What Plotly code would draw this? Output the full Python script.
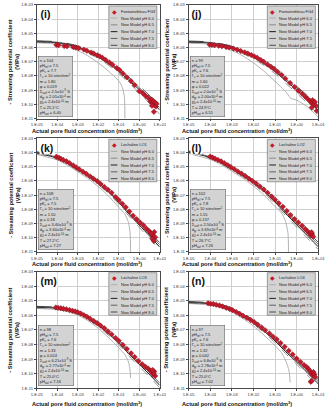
import plotly.graph_objects as go

# ---------------- data ----------------
PANEL_TAGS = ["(i)", "(j)", "(k)", "(l)", "(m)", "(n)"]
SAMPLES = ["Fontainebleau FG3", "Fontainebleau FG4", "Lochaline LO1",
           "Lochaline LO2", "Lochaline LO3", "Lochaline LO4"]
PH_LABELS = ["6.0", "6.5", "7.0", "7.5", "8.0"]

X_TICKS = [1e-5, 1e-4, 1e-3, 1e-2, 1e-1, 1e0, 1e1]
X_TICK_LABELS = ["1.E-05", "1.E-04", "1.E-03", "1.E-02", "1.E-01", "1.E+00", "1.E+01"]
Y_TICKS = [1e-11, 1e-10, 1e-9, 1e-8, 1e-7, 1e-6, 1e-5, 1e-4, 1e-3]
Y_TICK_LABELS = ["1.E-11", "1.E-10", "1.E-09", "1.E-08", "1.E-07", "1.E-06", "1.E-05", "1.E-04", "1.E-03"]

# shared concentration grid of the model curves pH 6.5 - 8.0 (mol/dm3)
C_MODEL = [1e-5, 1e-4, 3e-4, 1e-3, 3e-3, 1e-2, 3e-2, 1e-1, 3e-1, 1, 3, 10]

# ---- panel (i) Fontainebleau FG3
I_PH80 = [3.0e-6, 2.6e-6, 2.0e-6, 1.3e-6, 7.0e-7, 3.1e-7, 1.15e-7, 3.4e-8, 8.5e-9, 2.0e-9, 4.6e-10, 8.0e-11]
I_PH75 = [2.8e-6, 2.4e-6, 1.85e-6, 1.15e-6, 6.2e-7, 2.7e-7, 9.8e-8, 2.8e-8, 6.8e-9, 1.5e-9, 3.4e-10, 5.8e-11]
I_PH70 = [2.6e-6, 2.2e-6, 1.65e-6, 1.0e-6, 5.3e-7, 2.25e-7, 8.0e-8, 2.2e-8, 5.2e-9, 1.1e-9, 2.4e-10, 4.0e-11]
I_PH65 = [2.4e-6, 2.0e-6, 1.45e-6, 8.5e-7, 4.3e-7, 1.75e-7, 6.0e-8, 1.55e-8, 3.4e-9, 6.5e-10, 1.3e-10, 2.0e-11]
I_PH60_X = [1e-5, 1e-4, 3e-4, 1e-3, 3e-3, 1e-2, 3e-2, 1e-1, 0.15, 0.19, 0.2]
I_PH60_Y = [2.2e-6, 1.75e-6, 1.2e-6, 6.2e-7, 2.7e-7, 8.5e-8, 2.4e-8, 4.5e-9, 1.6e-9, 3e-10, 1e-11]
I_MEAS_X = [9e-5, 1.15e-4, 2.2e-4, 3.0e-4, 6.0e-4, 8.0e-4, 1.1e-3, 2.0e-3, 2.8e-3, 4.5e-3, 6.0e-3, 9.0e-3,
            1.2e-2, 1.6e-2, 2.3e-2, 3.5e-2, 5.0e-2, 8.0e-2, 1.1e-1, 1.6e-1, 2.5e-1, 4.0e-1, 6.0e-1, 1.0,
            1.5, 2.0, 2.8, 3.5, 4.0, 4.5, 5.0, 5.5, 6.0, 6.5, 7.0, 4.2, 5.2]
I_MEAS_Y = [1.55e-6, 1.45e-6, 1.3e-6, 1.25e-6, 1.1e-6, 1.0e-6, 9.0e-7, 7.2e-7, 6.0e-7, 4.5e-7, 3.8e-7, 2.9e-7,
            2.4e-7, 1.9e-7, 1.35e-7, 9.0e-8, 6.2e-8, 3.6e-8, 2.6e-8, 1.5e-8, 8.0e-9, 4.2e-9, 2.3e-9, 8.5e-10,
            6.0e-10, 4.0e-10, 2.8e-10, 1.6e-10, 2.2e-10, 1.2e-10, 1.7e-10, 9.0e-11, 1.3e-10, 7.0e-11, 1.1e-10, 8.0e-11, 3.0e-11]

# ---- panel (j) Fontainebleau FG4
J_PH80 = [2.9e-6, 2.5e-6, 1.9e-6, 1.25e-6, 6.8e-7, 3.0e-7, 1.1e-7, 3.3e-8, 8.2e-9, 1.9e-9, 4.4e-10, 7.5e-11]
J_PH75 = [2.7e-6, 2.3e-6, 1.75e-6, 1.1e-6, 6.0e-7, 2.6e-7, 9.4e-8, 2.7e-8, 6.5e-9, 1.45e-9, 3.2e-10, 5.5e-11]
J_PH70 = [2.5e-6, 2.1e-6, 1.6e-6, 9.8e-7, 5.1e-7, 2.15e-7, 7.6e-8, 2.1e-8, 5.0e-9, 1.05e-9, 2.3e-10, 3.8e-11]
J_PH65 = [2.3e-6, 1.9e-6, 1.4e-6, 8.2e-7, 4.1e-7, 1.65e-7, 5.6e-8, 1.45e-8, 3.2e-9, 6.2e-10, 1.25e-10, 1.9e-11]
J_PH60_X = [1e-5, 1e-4, 3e-4, 1e-3, 3e-3, 1e-2, 3e-2, 1e-1, 3e-1, 0.5, 0.55, 1, 3, 10]
J_PH60_Y = [2.1e-6, 1.7e-6, 1.2e-6, 6.3e-7, 2.8e-7, 8.5e-8, 2.3e-8, 4.2e-9, 8.5e-10, 3.0e-10, 2.6e-10, 2.0e-10, 7.0e-11, 1.3e-11]
J_MEAS_X = [9.5e-5, 1.2e-4, 1.6e-4, 2.5e-4, 3.5e-4, 5.5e-4, 7.5e-4, 1.2e-3, 1.8e-3, 2.6e-3, 4.0e-3, 5.5e-3,
            8.0e-3, 1.1e-2, 1.5e-2, 2.2e-2, 3.0e-2, 4.5e-2, 6.5e-2, 9.0e-2, 1.3e-1, 2.0e-1, 3.0e-1, 5.0e-1,
            8.0e-1, 1.2, 1.8, 2.5, 3.2, 4.0, 4.8, 5.5, 6.2, 7.0, 7.8, 5.0, 8.5]
J_MEAS_Y = [1.6e-6, 1.55e-6, 1.45e-6, 1.35e-6, 1.25e-6, 1.1e-6, 1.0e-6, 8.5e-7, 7.0e-7, 5.8e-7, 4.6e-7, 3.8e-7,
            3.0e-7, 2.4e-7, 1.9e-7, 1.35e-7, 1.0e-7, 6.5e-8, 4.5e-8, 3.2e-8, 2.0e-8, 1.2e-8, 6.5e-9, 3.2e-9,
            1.7e-9, 9.0e-10, 5.5e-10, 3.5e-10, 2.5e-10, 1.8e-10, 1.3e-10, 2.0e-10, 1.0e-10, 1.5e-10, 8.0e-11, 6.0e-11, 3.5e-11]

# ---- panel (k) Lochaline LO1
K_PH80 = [1.15e-4, 5.0e-5, 2.4e-5, 8.5e-6, 3.5e-6, 1.05e-6, 2.9e-7, 5.0e-8, 8.5e-9, 1.4e-9, 2.8e-10, 4.5e-11]
K_PH75 = [1.05e-4, 4.5e-5, 2.1e-5, 7.5e-6, 3.0e-6, 8.8e-7, 2.4e-7, 4.0e-8, 6.6e-9, 1.05e-9, 2.0e-10, 3.2e-11]
K_PH70 = [9.5e-5, 4.0e-5, 1.85e-5, 6.5e-6, 2.5e-6, 7.2e-7, 1.9e-7, 3.1e-8, 5.0e-9, 7.8e-10, 1.45e-10, 2.2e-11]
K_PH65 = [8.5e-5, 3.5e-5, 1.6e-5, 5.4e-6, 2.0e-6, 5.6e-7, 1.45e-7, 2.3e-8, 3.6e-9, 5.4e-10, 9.5e-11, 1.4e-11]
K_PH60_X = [1e-5, 1e-4, 3e-4, 1e-3, 3e-3, 1e-2, 3e-2, 1e-1, 2e-1, 3e-1, 0.36, 0.38]
K_PH60_Y = [7.5e-5, 3.0e-5, 1.35e-5, 4.4e-6, 1.55e-6, 4.0e-7, 9.5e-8, 1.4e-8, 4.5e-9, 1.2e-9, 2e-10, 1e-11]
K_MEAS_X = [9e-5, 1.2e-4, 1.5e-4, 2.0e-4, 2.8e-4, 4.0e-4, 6.0e-4, 8.5e-4, 1.2e-3, 1.8e-3, 2.6e-3, 4.0e-3,
            6.0e-3, 9.0e-3, 1.3e-2, 2.0e-2, 3.0e-2, 4.5e-2, 7.0e-2, 1.0e-1, 1.5e-1, 2.2e-1, 3.3e-1, 5.0e-1,
            7.5e-1, 1.1, 1.6, 2.2, 3.0, 3.6, 4.2, 4.8, 5.4, 6.0, 4.5, 5.2, 3.9]
K_MEAS_Y = [5.0e-5, 4.3e-5, 3.7e-5, 3.0e-5, 2.4e-5, 1.8e-5, 1.25e-5, 9.0e-6, 6.5e-6, 4.5e-6, 3.2e-6, 2.1e-6,
            1.4e-6, 9.5e-7, 6.2e-7, 3.8e-7, 2.4e-7, 1.45e-7, 7.5e-8, 4.5e-8, 2.5e-8, 1.4e-8, 7.0e-9, 3.6e-9,
            2.0e-9, 1.2e-9, 7.5e-10, 4.5e-10, 3.0e-10, 2.2e-10, 1.6e-10, 1.3e-10, 2.5e-10, 1.1e-10, 8.5e-11, 6.0e-11, 1.9e-10]

# ---- panel (l) Lochaline LO2
L_PH80 = [1.3e-4, 5.6e-5, 2.7e-5, 9.5e-6, 3.8e-6, 1.15e-6, 3.1e-7, 5.4e-8, 9.0e-9, 1.5e-9, 3.0e-10, 4.8e-11]
L_PH75 = [1.2e-4, 5.0e-5, 2.35e-5, 8.2e-6, 3.2e-6, 9.5e-7, 2.55e-7, 4.3e-8, 7.0e-9, 1.1e-9, 2.1e-10, 3.4e-11]
L_PH70 = [1.08e-4, 4.5e-5, 2.05e-5, 7.1e-6, 2.7e-6, 7.8e-7, 2.05e-7, 3.3e-8, 5.3e-9, 8.2e-10, 1.5e-10, 2.3e-11]
L_PH65 = [9.6e-5, 3.9e-5, 1.75e-5, 5.9e-6, 2.2e-6, 6.0e-7, 1.55e-7, 2.4e-8, 3.8e-9, 5.7e-10, 1.0e-10, 1.5e-11]
L_PH60_X = [1e-5, 1e-4, 3e-4, 1e-3, 3e-3, 1e-2, 3e-2, 1e-1, 2e-1, 3e-1, 0.4, 0.42]
L_PH60_Y = [8.5e-5, 3.3e-5, 1.5e-5, 4.8e-6, 1.7e-6, 4.4e-7, 1.05e-7, 1.6e-8, 5.5e-9, 1.6e-9, 2e-10, 1e-11]
L_MEAS_X = [1.0e-4, 1.3e-4, 1.7e-4, 2.3e-4, 3.2e-4, 4.5e-4, 6.5e-4, 9.0e-4, 1.3e-3, 1.9e-3, 2.8e-3, 4.2e-3,
            6.2e-3, 9.0e-3, 1.35e-2, 2.0e-2, 3.0e-2, 4.5e-2, 7.0e-2, 1.0e-1, 1.5e-1, 2.3e-1, 3.5e-1, 5.2e-1,
            8.0e-1, 1.2, 1.8, 2.5, 3.3, 4.0, 4.6, 5.2, 5.8, 4.9]
L_MEAS_Y = [5.2e-5, 4.4e-5, 3.7e-5, 3.0e-5, 2.4e-5, 1.8e-5, 1.3e-5, 9.5e-6, 6.8e-6, 4.7e-6, 3.3e-6, 2.2e-6,
            1.45e-6, 1.0e-6, 6.5e-7, 4.0e-7, 2.5e-7, 1.5e-7, 8.0e-8, 4.8e-8, 2.7e-8, 1.5e-8, 7.8e-9, 4.0e-9,
            2.1e-9, 1.2e-9, 7.0e-10, 4.2e-10, 2.8e-10, 2.0e-10, 1.5e-10, 1.8e-10, 1.2e-10, 2.4e-10]

# ---- panel (m) Lochaline LO3
M_PH80 = [4.2e-6, 3.7e-6, 2.9e-6, 1.9e-6, 9.5e-7, 3.3e-7, 9.5e-8, 2.1e-8, 4.2e-9, 8.0e-10, 1.8e-10, 3.2e-11]
M_PH75 = [3.9e-6, 3.4e-6, 2.6e-6, 1.65e-6, 8.0e-7, 2.7e-7, 7.6e-8, 1.65e-8, 3.2e-9, 6.0e-10, 1.3e-10, 2.3e-11]
M_PH70 = [3.6e-6, 3.1e-6, 2.35e-6, 1.45e-6, 6.8e-7, 2.2e-7, 6.0e-8, 1.3e-8, 2.4e-9, 4.4e-10, 9.5e-11, 1.6e-11]
M_PH65 = [3.3e-6, 2.8e-6, 2.1e-6, 1.25e-6, 5.6e-7, 1.75e-7, 4.6e-8, 9.5e-9, 1.75e-9, 3.1e-10, 6.5e-11, 1.1e-11]
M_PH60_X = [1e-5, 1e-4, 3e-4, 1e-3, 3e-3, 1e-2, 3e-2, 1e-1, 2e-1, 3e-1, 0.36, 0.38]
M_PH60_Y = [3.0e-6, 2.5e-6, 1.85e-6, 1.05e-6, 4.5e-7, 1.3e-7, 3.2e-8, 6.0e-9, 2.0e-9, 6.5e-10, 1.5e-10, 5e-11]
M_MEAS_X = [8.5e-5, 1.1e-4, 1.5e-4, 2.0e-4, 2.8e-4, 4.0e-4, 5.5e-4, 7.5e-4, 1.0e-3, 1.4e-3, 2.0e-3, 2.8e-3,
            4.0e-3, 6.0e-3, 9.0e-3, 1.3e-2, 2.0e-2, 3.0e-2, 4.5e-2, 7.0e-2, 1.0e-1, 1.6e-1, 2.5e-1, 4.0e-1,
            6.0e-1, 9.0e-1, 1.4, 2.0, 2.8, 3.5, 4.2, 4.8, 5.4, 6.0, 5.0, 4.5]
M_MEAS_Y = [3.5e-6, 3.3e-6, 3.1e-6, 2.9e-6, 2.65e-6, 2.35e-6, 2.1e-6, 1.9e-6, 1.65e-6, 1.35e-6, 1.05e-6, 8.0e-7,
            6.0e-7, 4.2e-7, 2.9e-7, 2.0e-7, 1.3e-7, 8.0e-8, 5.0e-8, 2.8e-8, 1.8e-8, 9.5e-9, 5.0e-9, 2.5e-9,
            1.4e-9, 7.5e-10, 4.5e-10, 3.0e-10, 2.2e-10, 1.6e-10, 1.2e-10, 9.0e-11, 1.4e-10, 7.0e-11, 1.1e-10, 1.8e-10]

# ---- panel (n) Lochaline LO4
N_PH80 = [9.0e-6, 7.5e-6, 5.6e-6, 3.2e-6, 1.45e-6, 4.8e-7, 1.35e-7, 2.9e-8, 5.8e-9, 1.1e-9, 2.3e-10, 4.0e-11]
N_PH75 = [8.4e-6, 6.9e-6, 5.1e-6, 2.85e-6, 1.25e-6, 4.0e-7, 1.1e-7, 2.3e-8, 4.5e-9, 8.4e-10, 1.7e-10, 2.9e-11]
N_PH70 = [7.8e-6, 6.3e-6, 4.6e-6, 2.5e-6, 1.05e-6, 3.3e-7, 8.8e-8, 1.8e-8, 3.4e-9, 6.2e-10, 1.25e-10, 2.0e-11]
N_PH65 = [7.2e-6, 5.7e-6, 4.1e-6, 2.15e-6, 8.8e-7, 2.65e-7, 6.8e-8, 1.35e-8, 2.5e-9, 4.4e-10, 8.5e-11, 1.3e-11]
N_PH60_X = [1e-5, 1e-4, 3e-4, 1e-3, 3e-3, 1e-2, 3e-2, 1e-1, 2e-1, 3e-1, 0.45, 0.5]
N_PH60_Y = [6.6e-6, 5.1e-6, 3.5e-6, 1.75e-6, 6.8e-7, 1.9e-7, 4.6e-8, 8.5e-9, 2.8e-9, 9.0e-10, 1.5e-10, 2.5e-11]
N_MEAS_X = [8.0e-5, 1.05e-4, 1.4e-4, 1.9e-4, 2.7e-4, 3.8e-4, 5.5e-4, 8.0e-4, 1.1e-3, 1.6e-3, 2.3e-3, 3.3e-3,
            5.0e-3, 7.5e-3, 1.1e-2, 1.6e-2, 2.4e-2, 3.5e-2, 5.5e-2, 8.0e-2, 1.2e-1, 1.8e-1, 2.8e-1, 4.3e-1,
            6.5e-1, 1.0, 1.5, 2.2, 3.0, 3.6, 4.2, 4.8, 5.4, 6.0, 6.6, 7.2, 4.5, 5.0]
N_MEAS_Y = [6.8e-6, 6.4e-6, 6.0e-6, 5.4e-6, 4.8e-6, 4.1e-6, 3.4e-6, 2.8e-6, 2.3e-6, 1.75e-6, 1.3e-6, 9.5e-7,
            6.8e-7, 4.8e-7, 3.4e-7, 2.3e-7, 1.5e-7, 9.5e-8, 5.8e-8, 3.6e-8, 2.3e-8, 1.3e-8, 7.0e-9, 3.8e-9,
            2.1e-9, 1.1e-9, 6.5e-10, 4.0e-10, 2.8e-10, 2.0e-10, 1.5e-10, 1.1e-10, 8.0e-11, 1.3e-10, 9.0e-11, 6.0e-11, 2.8e-11, 3.2e-11]

# parameter box values
N_PTS = ["104", "99", "108", "102", "98", "97"]
PH_REF = ["7.5", "7.5", "7.5", "7.5", "7.5", "7.5"]
PK_C = ["7.7", "7.6", "7.5", "7.8", "7.6", "7.6"]
M_EXP = ["1.80", "1.60", "1.50", "1.55", "1.33", "1.32"]
PHI = ["0.019", "0.022", "0.18", "0.137", "0.024", "0.042"]
SIGMA = ["2.5", "2.0", "3.40", "2.50", "6.21", "6.8"]
D_GR = ["2.01", "2.00", "3.60", "3.69", "2.77", "2.78"]
TEMP = ["25.1", "24.9", "27.2", "26.7", "25.0", "25.0"]
PH_SAT = ["6.40", "6.51", "7.27", "7.26", "7.16", "7.02"]

MODELS = [
    (I_PH60_X, I_PH60_Y, [I_PH65, I_PH70, I_PH75, I_PH80]),
    (J_PH60_X, J_PH60_Y, [J_PH65, J_PH70, J_PH75, J_PH80]),
    (K_PH60_X, K_PH60_Y, [K_PH65, K_PH70, K_PH75, K_PH80]),
    (L_PH60_X, L_PH60_Y, [L_PH65, L_PH70, L_PH75, L_PH80]),
    (M_PH60_X, M_PH60_Y, [M_PH65, M_PH70, M_PH75, M_PH80]),
    (N_PH60_X, N_PH60_Y, [N_PH65, N_PH70, N_PH75, N_PH80]),
]
MEAS = [(I_MEAS_X, I_MEAS_Y), (J_MEAS_X, J_MEAS_Y), (K_MEAS_X, K_MEAS_Y),
        (L_MEAS_X, L_MEAS_Y), (M_MEAS_X, M_MEAS_Y), (N_MEAS_X, N_MEAS_Y)]

# ---------------- style / layout ----------------
FIG_W, FIG_H = 331, 413
COL_X0 = [32, 190]
COL_W = [128, 135]
ROW_Y0 = [2, 137, 272]
ROW_H = [115, 115, 118]
XTITLE_CX = [84, 240]
XTITLE_Y = [129, 264, 405]
YTITLE_CX = [8, 171]
FONT = "Liberation Sans"
TICK_SIZE = 4
LEG_SIZE = 4
INFO_SIZE = 4

CURVE_STYLES = [
    dict(color="#a9a9a9", width=0.9, dash="solid"),
    dict(color="#777777", width=0.8, dash="dash"),
    dict(color="#1e1e1e", width=1.0, dash="solid"),
    dict(color="#555555", width=0.9, dash="solid"),
    dict(color="#2a2a2a", width=0.8, dash="longdash"),
]
MARKER_STYLE = dict(symbol="diamond", size=4.2, color="#c41a2b", line=dict(color="#6e0c14", width=0.4))

fig = go.Figure()
shapes, annotations = [], []
layout_axes = {}

for k in range(6):
    r, c = k // 2, k % 2
    sfx = "" if k == 0 else str(k + 1)
    xa, ya = "x" + sfx, "y" + sfx
    W, H = COL_W[c], ROW_H[r]

    px60, py60, others = MODELS[k]
    fig.add_trace(go.Scatter(x=px60, y=py60, mode="lines", line=dict(shape="spline", smoothing=0.6, **CURVE_STYLES[0]),
                             xaxis=xa, yaxis=ya, showlegend=False, name="New Model pH " + PH_LABELS[0]))
    for j, ys in enumerate(others):
        fig.add_trace(go.Scatter(x=C_MODEL, y=ys, mode="lines",
                                 line=dict(shape="spline", smoothing=0.6, **CURVE_STYLES[j + 1]),
                                 xaxis=xa, yaxis=ya, showlegend=False, name="New Model pH " + PH_LABELS[j + 1]))
    mx, my = MEAS[k]
    fig.add_trace(go.Scatter(x=mx, y=my, mode="markers", marker=MARKER_STYLE,
                             xaxis=xa, yaxis=ya, showlegend=False, name=SAMPLES[k]))

    xdom = [COL_X0[c] / FIG_W, (COL_X0[c] + W) / FIG_W]
    ydom = [1 - (ROW_Y0[r] + H) / FIG_H, 1 - ROW_Y0[r] / FIG_H]
    common = dict(type="log", showgrid=True, gridcolor="#cfcfcf", gridwidth=0.5,
                  showline=True, linecolor="#4a4a4a", linewidth=0.8, mirror=True,
                  ticks="outside", ticklen=2, tickwidth=0.5, tickcolor="#4a4a4a",
                  tickfont=dict(size=TICK_SIZE, color="#333333", family=FONT), zeroline=False)
    layout_axes["xaxis" + sfx] = dict(domain=xdom, anchor=ya, range=[-5, 1],
                                      tickvals=X_TICKS, ticktext=X_TICK_LABELS, **common)
    layout_axes["yaxis" + sfx] = dict(domain=ydom, anchor=xa, range=[-11, -3],
                                      tickvals=Y_TICKS, ticktext=Y_TICK_LABELS, **common)

    xd, yd = xa + " domain", ya + " domain"
    # panel tag
    annotations.append(dict(xref=xd, yref=yd, x=2 / W, y=1 - 1.5 / H, xanchor="left", yanchor="top",
                            text="<b>" + PANEL_TAGS[k] + "</b>", showarrow=False, bgcolor="white",
                            borderpad=0.5, font=dict(size=10.5, color="#111111", family=FONT)))
    # parameter box
    info = ("n = " + N_PTS[k] + "<br>pH<sub>ref</sub> = " + PH_REF[k] + "<br>pK<sub>c</sub> = " + PK_C[k] +
            "<br>Γ<sub>s</sub> = 10 sites/nm<sup>2</sup><br>m = " + M_EXP[k] + "<br>φ = " + PHI[k] +
            "<br>Σ<sub>surf</sub> = " + SIGMA[k] + "x10<sup>-9</sup> S<br>d<sub>gr</sub> = " + D_GR[k] +
            "x10<sup>-4</sup> m<br>χ<sub>0</sub> = 2.4x10<sup>-10</sup> m<br>T = " + TEMP[k] +
            "°C<br>pH<sub>sat</sub> = " + PH_SAT[k])
    annotations.append(dict(xref=xd, yref=yd, x=1.5 / W, y=2 / H, xanchor="left", yanchor="bottom",
                            text=info, showarrow=False, align="left", bgcolor="#d3d3d3",
                            bordercolor="#666666", borderwidth=0.6, borderpad=1.2,
                            font=dict(size=INFO_SIZE, color="#222222", family=FONT)))
    # legend box (drawn manually to keep Excel-like compact layout)
    LB_W, LB_H, LB_R, LB_T, ROW_STEP, FIRST = 50, 43, 3, 1, 6.9, 6.3
    shapes.append(dict(type="rect", xref=xd, yref=yd, x0=1 - (LB_R + LB_W) / W, x1=1 - LB_R / W,
                       y0=1 - (LB_T + LB_H) / H, y1=1 - LB_T / H, fillcolor="#d3d3d3",
                       line=dict(color="#666666", width=0.6), layer="above"))
    left = LB_W + LB_R
    for j in range(6):
        yy = 1 - (FIRST + j * ROW_STEP) / H
        if j == 0:
            annotations.append(dict(xref=xd, yref=yd, x=1 - (left - 5.5) / W, y=yy, xanchor="center",
                                    yanchor="middle", text="◆", showarrow=False,
                                    font=dict(size=6, color="#c41a2b", family="DejaVu Sans")))
            label = SAMPLES[k]
        else:
            st = CURVE_STYLES[j - 1]
            shapes.append(dict(type="line", xref=xd, yref=yd, x0=1 - (left - 2) / W, x1=1 - (left - 9) / W,
                               y0=yy, y1=yy, line=dict(color=st["color"], width=st["width"], dash=st["dash"]),
                               layer="above"))
            label = "New Model pH " + PH_LABELS[j - 1]
        annotations.append(dict(xref=xd, yref=yd, x=1 - (left - 10.5) / W, y=yy, xanchor="left",
                                yanchor="middle", text=label, showarrow=False,
                                font=dict(size=LEG_SIZE, color="#222222", family=FONT)))
    # axis titles
    annotations.append(dict(xref="paper", yref="paper", x=XTITLE_CX[c] / FIG_W, y=1 - XTITLE_Y[r] / FIG_H,
                            xanchor="center", yanchor="middle", showarrow=False,
                            text="<b>Actual pore fluid concentration (mol/dm<sup>3</sup>)</b>",
                            font=dict(size=5.6, color="#111111", family=FONT)))
    annotations.append(dict(xref="paper", yref="paper", x=YTITLE_CX[c] / FIG_W,
                            y=1 - (ROW_Y0[r] + H / 2) / FIG_H, xanchor="center", yanchor="middle",
                            showarrow=False, textangle=-90,
                            text="<b>- Streaming potential coefficient</b><br><b>(V/Pa)</b>",
                            font=dict(size=5.6, color="#111111", family=FONT)))

fig.update_layout(width=FIG_W, height=FIG_H, margin=dict(l=0, r=0, t=0, b=0),
                  paper_bgcolor="white", plot_bgcolor="white", showlegend=False,
                  font=dict(family=FONT), shapes=shapes, annotations=annotations, **layout_axes)
fig.write_html("out.html")
